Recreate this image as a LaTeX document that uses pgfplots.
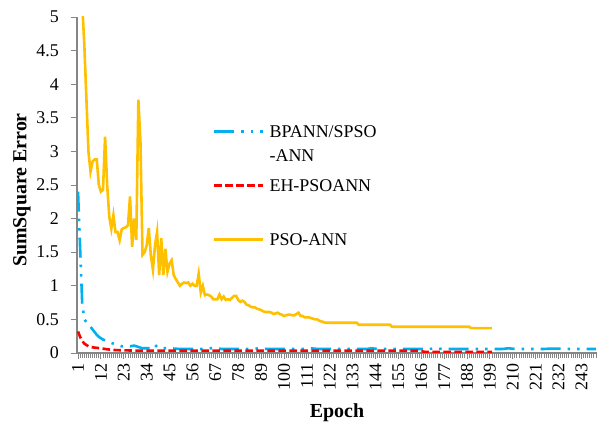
\documentclass[border=0pt]{standalone}
\usepackage{fontspec}
\setmainfont{Liberation Serif}
\usepackage{pgfplots}
\pgfplotsset{compat=1.18}
\definecolor{cblue}{HTML}{00B0F0}
\definecolor{cred}{HTML}{FF0000}
\definecolor{cyell}{HTML}{FFC000}
\definecolor{cgray}{HTML}{868686}
\begin{document}
\begin{tikzpicture}
\useasboundingbox (0,0) rectangle (607bp,423bp);
\begin{axis}[
  at={(77bp,70bp)}, anchor=south west,
  scale only axis, width=520bp, height=336bp,
  xmin=0.5, xmax=250.5, ymin=0, ymax=5,
  axis x line*=bottom, axis y line*=left,
  axis line style={cgray, line width=1.6bp},
  xtick={1,12,...,243},
  minor xtick={1,...,250},
  ytick={0,0.5,...,5},
  tick align=outside,
  major tick length=6bp, minor tick length=5bp,
  every tick/.style={cgray, line width=0.9bp},
  /pgf/number format/assume math mode=true,
  ticklabel style={font=\rmfamily\fontsize{18}{20}\selectfont},
  yticklabel style={/pgf/number format/fixed, anchor=east, inner sep=0pt},
  yticklabel shift=12bp,
  xticklabel style={rotate=90, anchor=east, inner sep=0pt},
  xticklabel shift=4bp,
  xlabel={\textbf{Epoch}},
  ylabel={\textbf{SumSquare Error}},
  label style={font=\fontsize{20}{22}\selectfont},
  xlabel style={at={(axis description cs:0.5,-0.178)}, anchor=center},
  ylabel style={at={(axis description cs:-0.106,0.485)}, anchor=center},
  legend style={draw=none, fill=none, at={(0.2615,0.680)}, anchor=north west,
    inner sep=0pt, outer sep=0pt, row sep=11bp, column sep=5bp,
    nodes={inner sep=0pt, text height=12.5bp, text depth=3.5bp,
      font=\fontsize{18}{20}\selectfont}},
  legend cell align=left,
  legend image code/.code={\draw[#1] (0bp,1bp) -- (49bp,1bp);},
]
\addplot[cblue, line width=2.6bp, dash pattern=on 20bp off 7bp on 2.5bp off 7bp on 2.5bp off 7bp] coordinates {
(1,2.4)(2,1.56)(3,0.74)(4,0.5)(5,0.46)(6,0.44)(7,0.39)(8,0.35)(9,0.31)(10,0.27)(11,0.24)(12,0.22)(13,0.2)(14,0.19)(15,0.18)(16,0.17)(17,0.15)(18,0.14)(19,0.13)(20,0.12)(21,0.11)(22,0.1)(24,0.1)(26,0.1)(28,0.11)(30,0.09)(32,0.07)(34,0.07)(36,0.07)(37,0.1)(38,0.12)(39,0.09)(40,0.07)(45,0.07)(50,0.06)(60,0.06)(63,0.07)(68,0.07)(70,0.06)(85,0.06)(88,0.07)(92,0.06)(110,0.06)(113,0.07)(116,0.06)(140,0.06)(142,0.07)(145,0.06)(170,0.06)(173,0.07)(176,0.06)(205,0.06)(208,0.07)(211,0.06)(225,0.06)(228,0.065)(235,0.065)(237,0.06)(250,0.06)
};
\addlegendentry{BPANN/SPSO}
\addlegendimage{empty legend}
\addlegendentry{\raisebox{3bp}{-ANN}}
\addplot[cred, line width=2.6bp, dash pattern=on 7.5bp off 3.5bp] coordinates {
(1,0.32)(2,0.24)(3,0.18)(4,0.14)(5,0.12)(6,0.1)(7,0.09)(9,0.08)(12,0.07)(15,0.055)(18,0.045)(22,0.04)(30,0.035)(165,0.035)(168,0.015)(200,0.015)
};
\addlegendentry{EH-PSOANN}
\addlegendimage{empty legend}
\addlegendentry{}
\addplot[cyell, line width=2.6bp] coordinates {
(1,6.8)(2,6.0)(3,5.2)(4,4.6)(5,3.8)(6,3.0)(7,2.7)(8,2.85)(9,2.88)(10,2.88)(11,2.5)(12,2.4)(13,2.43)(14,3.22)(15,2.5)(16,2.03)(17,1.85)(18,2.05)(19,1.8)(20,1.8)(21,1.68)(22,1.84)(23,1.86)(24,1.87)(25,1.9)(26,2.33)(27,1.58)(28,2.0)(29,1.68)(30,3.77)(31,3.15)(32,1.46)(33,1.5)(34,1.6)(35,1.86)(36,1.45)(37,1.24)(38,1.6)(39,1.8)(40,1.16)(41,1.71)(42,1.16)(43,1.55)(44,1.21)(45,1.33)(46,1.38)(47,1.16)(48,1.1)(49,1.05)(50,1.0)(51,1.03)(52,1.05)(53,1.04)(54,1.05)(55,1.0)(56,1.03)(57,1.0)(58,1.0)(59,1.18)(60,0.9)(61,1.0)(62,0.86)(63,0.87)(64,0.86)(65,0.84)(66,0.8)(67,0.8)(68,0.8)(69,0.87)(70,0.8)(71,0.84)(72,0.79)(73,0.8)(74,0.79)(75,0.82)(76,0.85)(77,0.85)(78,0.79)(79,0.76)(80,0.78)(81,0.76)(82,0.72)(83,0.71)(84,0.69)(85,0.68)(86,0.68)(87,0.66)(88,0.65)(89,0.64)(90,0.62)(91,0.61)(92,0.61)(93,0.61)(94,0.6)(95,0.58)(96,0.59)(97,0.6)(98,0.58)(99,0.57)(100,0.55)(101,0.56)(102,0.57)(103,0.57)(104,0.56)(105,0.56)(106,0.58)(107,0.6)(108,0.55)(109,0.55)(110,0.53)(111,0.53)(112,0.53)(113,0.52)(114,0.51)(115,0.5)(116,0.5)(117,0.48)(118,0.47)(119,0.46)(120,0.45)(135,0.45)(136,0.42)(151,0.42)(152,0.39)(189,0.39)(190,0.37)(200,0.37)
};
\addlegendentry{PSO-ANN}
\end{axis}
\end{tikzpicture}
\end{document}
